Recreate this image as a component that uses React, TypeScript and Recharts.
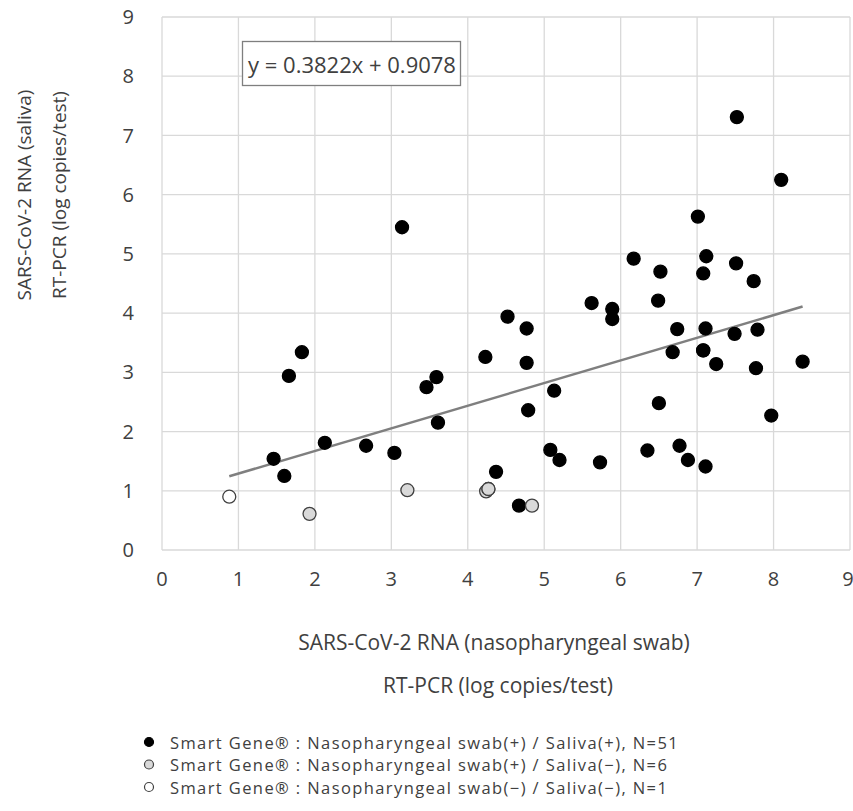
import React from 'react';
import { ScatterChart, Scatter, XAxis, YAxis, CartesianGrid, ReferenceLine } from 'recharts';

const FONT = "'Open Sans', 'Noto Sans', sans-serif";

const xTicks = [0, 1, 2, 3, 4, 5, 6, 7, 8, 9];
const yTicks = [0, 1, 2, 3, 4, 5, 6, 7, 8, 9];

// Nasopharyngeal swab(+) / Saliva(+)
const bothPositive = [
  { x: 3.14, y: 5.45 }, { x: 7.52, y: 7.31 }, { x: 8.1, y: 6.25 }, { x: 7.01, y: 5.63 },
  { x: 6.17, y: 4.92 }, { x: 7.12, y: 4.96 }, { x: 6.52, y: 4.7 }, { x: 7.08, y: 4.67 },
  { x: 7.51, y: 4.84 }, { x: 7.74, y: 4.54 }, { x: 5.62, y: 4.17 }, { x: 5.89, y: 4.07 },
  { x: 5.89, y: 3.9 }, { x: 6.49, y: 4.21 }, { x: 4.52, y: 3.94 }, { x: 4.77, y: 3.74 },
  { x: 6.74, y: 3.73 }, { x: 7.11, y: 3.74 }, { x: 7.49, y: 3.65 }, { x: 7.79, y: 3.72 },
  { x: 4.23, y: 3.26 }, { x: 4.77, y: 3.16 }, { x: 6.68, y: 3.34 }, { x: 7.08, y: 3.37 },
  { x: 7.25, y: 3.14 }, { x: 7.77, y: 3.07 }, { x: 8.38, y: 3.18 }, { x: 5.13, y: 2.69 },
  { x: 4.79, y: 2.36 }, { x: 6.5, y: 2.48 }, { x: 7.97, y: 2.27 }, { x: 5.08, y: 1.69 },
  { x: 5.2, y: 1.52 }, { x: 5.73, y: 1.48 }, { x: 6.35, y: 1.68 }, { x: 6.77, y: 1.76 },
  { x: 6.88, y: 1.52 }, { x: 7.11, y: 1.41 }, { x: 4.37, y: 1.32 }, { x: 4.67, y: 0.75 },
  { x: 1.83, y: 3.34 }, { x: 1.66, y: 2.94 }, { x: 3.46, y: 2.75 }, { x: 3.59, y: 2.92 },
  { x: 3.61, y: 2.15 }, { x: 2.13, y: 1.81 }, { x: 2.67, y: 1.76 }, { x: 3.04, y: 1.64 },
  { x: 1.46, y: 1.54 }, { x: 1.6, y: 1.25 }, { x: 7.08, y: 3.37 },
];

// Nasopharyngeal swab(+) / Saliva(-)
const salivaNegative = [
  { x: 4.24, y: 0.99 }, { x: 4.27, y: 1.03 }, { x: 4.84, y: 0.75 },
  { x: 1.93, y: 0.61 }, { x: 3.21, y: 1.01 }, { x: 4.27, y: 1.03 },
];

// Nasopharyngeal swab(-) / Saliva(-)
const bothNegative = [{ x: 0.88, y: 0.9 }];

const slope = 0.3822;
const intercept = 0.9078;

const legendItems = [
  { label: 'Smart Gene\u00AE : Nasopharyngeal swab(+) / Saliva(+), N=51', fill: '#000000', stroke: '#000000' },
  { label: 'Smart Gene\u00AE : Nasopharyngeal swab(+) / Saliva(\u2212), N=6', fill: '#d9d9d9', stroke: '#404040' },
  { label: 'Smart Gene\u00AE : Nasopharyngeal swab(\u2212) / Saliva(\u2212), N=1', fill: '#ffffff', stroke: '#404040' },
];

const allX = [...bothPositive, ...salivaNegative, ...bothNegative].map((d) => d.x);
const fitX0 = Math.min(...allX);
const fitX1 = Math.max(...allX);

const dot = (fill: string, stroke: string) => (props: any) => (
  <circle cx={props.cx} cy={props.cy} r={6.5} fill={fill} stroke={stroke} strokeWidth={1.3} />
);

const tickStyle = { fontSize: 20, fill: '#404040', fontFamily: FONT };

const App = () => {
  return (
    <div style={{ position: 'absolute', left: 0, top: 0, width: 853, height: 811, background: '#fff', fontFamily: FONT }}>
      <ScatterChart width={853} height={811} margin={{ top: 17, right: 3, left: 0, bottom: 221 }}>
        <CartesianGrid stroke="#d9d9d9" strokeWidth={1.3} />
        <XAxis
          type="number"
          dataKey="x"
          domain={[0, 9]}
          ticks={xTicks}
          axisLine={false}
          tickLine={false}
          tickSize={0}
          tickMargin={22}
          height={40}
          tick={tickStyle}
        />
        <YAxis
          type="number"
          dataKey="y"
          domain={[0, 9]}
          ticks={yTicks}
          axisLine={false}
          tickLine={false}
          tickSize={0}
          tickMargin={28}
          width={162}
          tick={tickStyle}
        />
        <Scatter data={bothPositive} shape={dot('#000000', '#000000')} isAnimationActive={false} />
        <Scatter data={salivaNegative} shape={dot('#d9d9d9', '#404040')} isAnimationActive={false} />
        <Scatter data={bothNegative} shape={dot('#ffffff', '#404040')} isAnimationActive={false} />
        <ReferenceLine
          segment={[
            { x: fitX0, y: slope * fitX0 + intercept },
            { x: fitX1, y: slope * fitX1 + intercept },
          ]}
          stroke="#7f7f7f"
          strokeWidth={2.5}
        />
      </ScatterChart>

      <svg width={853} height={811} style={{ position: 'absolute', left: 0, top: 0, pointerEvents: 'none' }}>
        <g fontFamily={FONT} fill="#404040" textAnchor="middle" dominantBaseline="central">
          <text fontSize={19} transform="translate(24,195) rotate(-90)">SARS-CoV-2 RNA (saliva)</text>
          <text fontSize={19} transform="translate(59,195) rotate(-90)">RT-PCR (log copies/test)</text>
          <text fontSize={21} x={494} y={642}>SARS-CoV-2 RNA (nasopharyngeal swab)</text>
          <text fontSize={21} x={498} y={685}>RT-PCR (log copies/test)</text>
        </g>
        <rect x={242.5} y={41.5} width={218} height={44} fill="#fff" stroke="#7f7f7f" strokeWidth={1.3} />
        <text x={352} y={64} fontFamily={FONT} fontSize={22} fill="#404040" textAnchor="middle" dominantBaseline="central">
          y = 0.3822x + 0.9078
        </text>
        {legendItems.map((item, i) => (
          <g key={i}>
            <circle cx={149} cy={742 + i * 22.5} r={4.5} fill={item.fill} stroke={item.stroke} strokeWidth={1.2} />
            <text
              x={170}
              y={742 + i * 22.5}
              fontFamily={FONT}
              fontSize={16.5}
              letterSpacing={1.4}
              fill="#404040"
              dominantBaseline="central"
            >
              {item.label}
            </text>
          </g>
        ))}
      </svg>
    </div>
  );
};

export default App;
